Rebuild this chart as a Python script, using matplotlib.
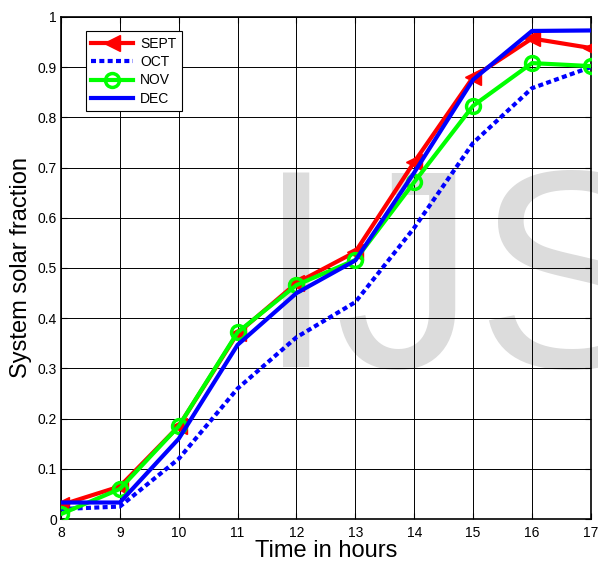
import matplotlib
matplotlib.use("Agg")
import matplotlib.pyplot as plt

plt.rcParams['font.family'] = ['Liberation Sans', 'DejaVu Sans']

hours = [8, 9, 10, 11, 12, 13, 14, 15, 16, 17]
sept = [0.028, 0.065, 0.185, 0.37, 0.47, 0.532, 0.711, 0.88, 0.957, 0.938]
octo = [0.02, 0.025, 0.12, 0.26, 0.362, 0.432, 0.58, 0.749, 0.858, 0.90]
nov = [0.01, 0.06, 0.185, 0.372, 0.466, 0.516, 0.671, 0.823, 0.908, 0.902]
dec = [0.033, 0.033, 0.16, 0.347, 0.45, 0.515, 0.69, 0.875, 0.972, 0.973]

fig = plt.figure(figsize=(5.98, 5.63), dpi=100)
ax = fig.add_axes([0.102, 0.078, 0.886, 0.892])

# watermark, under the grid
ax.text(0.43, 0.348, 'IJS', transform=fig.transFigure, fontsize=203, color='#dcdcdc',
        ha='left', va='baseline', zorder=0.3, clip_on=False)

ax.plot(hours, sept, color='red', lw=3, marker='<', ms=11, label='SEPT', zorder=3)
ax.plot(hours, octo, color='blue', lw=3, ls=(0, (1.2, 0.8)), label='OCT', zorder=3)
ax.plot(hours, nov, color='#00ff00', lw=3, marker='o', ms=10, mfc='none', mew=2.5,
        label='NOV', zorder=3)
ax.plot(hours, dec, color='blue', lw=3, label='DEC', zorder=3)

ax.set_xlim(8, 17)
ax.set_ylim(0, 1)
ax.set_xticks(hours)
ax.set_yticks([i / 10 for i in range(11)])
ax.set_yticklabels(['0'] + ['%.1f' % (i / 10) for i in range(1, 10)] + ['1'])
ax.tick_params(direction='in', labelsize=10, top=True, right=True, length=4, pad=3)
ax.tick_params(axis='x', pad=5)
ax.grid(True, color='black', lw=0.7)
ax.set_axisbelow(True)
for s in ax.spines.values():
    s.set_linewidth(1.2)

ax.set_xlabel('Time in hours', fontsize=17, labelpad=0)
ax.set_ylabel('System solar fraction', fontsize=17, labelpad=4)

leg = ax.legend(loc='upper left', bbox_to_anchor=(0.047, 0.972), borderaxespad=0,
                fontsize=10, fancybox=False, framealpha=1, edgecolor='black',
                handlelength=3.0, borderpad=0.4, labelspacing=0.32, handletextpad=0.5)
leg.get_frame().set_linewidth(0.8)

fig.savefig('out.png', dpi=100)
